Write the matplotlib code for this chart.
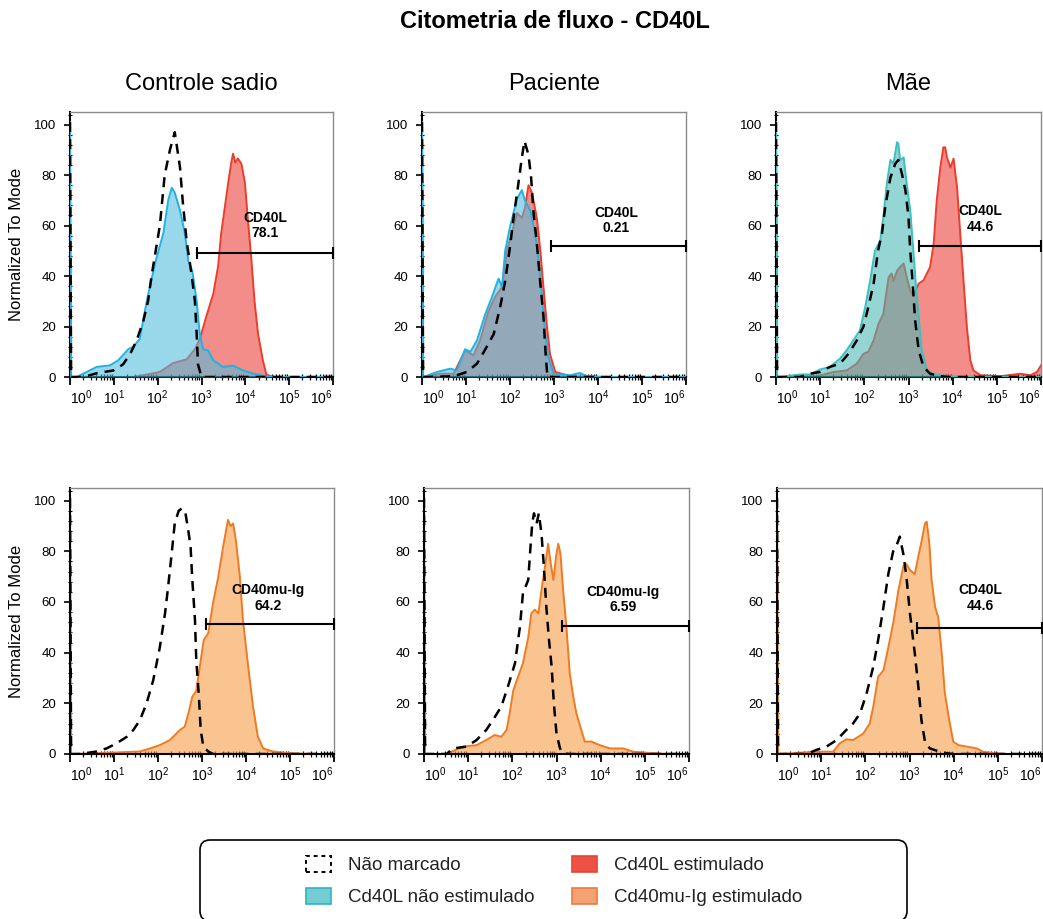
import matplotlib
matplotlib.use('Agg')
import matplotlib.pyplot as plt
from matplotlib.patches import FancyBboxPatch, Patch
from matplotlib.ticker import FixedLocator, MultipleLocator
import numpy as np

plt.rcParams['font.family'] = ['Liberation Sans', 'DejaVu Sans']
plt.rcParams['mathtext.fontset'] = 'custom'
plt.rcParams['mathtext.rm'] = 'Liberation Sans'
plt.rcParams['mathtext.it'] = 'Liberation Sans:italic'
plt.rcParams['mathtext.bf'] = 'Liberation Sans:bold'

title = 'Citometria de fluxo - CD40L'
columns = ['Controle sadio', 'Paciente', 'Mãe']
ylabel = 'Normalized To Mode'
decades = [0, 1, 2, 3, 4, 5, 6]

# x in log10 units (decades), y in % of mode
# --- top row: CD40L ---
ctrl_neg_x = [0, 0.025, 0.30, 0.61, 0.99, 1.21, 1.37, 1.52, 1.67, 1.78, 1.86, 2.05, 2.16, 2.28, 2.39,
              2.51, 2.57, 2.66, 2.77, 2.85, 2.89, 2.92, 3.0, 6.0]
ctrl_neg_y = [101, 0, 0, 1.5, 2.6, 5, 9, 14.5, 22, 30, 40, 60, 80, 90, 97,
              83, 70, 54, 41, 30, 17, 5, 0, 0]
ctrl_ns_x = [0, 0.025, 0.15, 0.38, 0.61, 0.91, 1.10, 1.33, 1.44, 1.59, 1.75, 1.94, 2.13, 2.24, 2.32, 2.39,
             2.51, 2.62, 2.70, 2.79, 2.89, 2.96, 3.04, 3.15, 3.27, 3.49, 3.72, 3.95, 4.18, 4.48, 4.7, 6.0]
ctrl_ns_y = [101, 0, 0, 2, 4, 4.6, 6.6, 11, 12, 15, 30, 45, 57, 70, 75, 73,
             66, 57, 46, 42, 30, 17, 11, 10.5, 6.6, 4, 4.5, 2.6, 1.3, 0.3, 0, 0]
ctrl_st_x = [0, 0.025, 1.44, 1.67, 2.05, 2.35, 2.66, 2.85, 2.96, 3.11, 3.27, 3.38, 3.45, 3.53, 3.61, 3.68,
             3.72, 3.77, 3.83, 3.91, 3.99, 4.06, 4.14, 4.21, 4.29, 4.40, 4.48, 4.63, 6.0]
ctrl_st_y = [60, 0, 0, 0.7, 2, 5.5, 7, 11, 15, 24, 33, 44, 57, 67, 77, 85,
             88.5, 85, 86.6, 84.5, 77, 62, 46, 30, 17, 6.6, 1, 0, 0]

pac_neg_x = [0, 0.025, 0.11, 0.72, 1.02, 1.25, 1.44, 1.63, 1.78, 1.89, 2.00, 2.08, 2.19, 2.27, 2.33,
             2.42, 2.48, 2.53, 2.61, 2.69, 2.76, 2.81, 2.85, 6.0]
pac_neg_y = [101, 0, 0, 0.3, 2, 5.3, 11, 17, 28, 38, 51.5, 63, 76.6, 87, 93.5,
             88, 79, 66, 53, 37, 24, 9, 0, 0]
pac_ns_x = [0, 0.025, 0.04, 0.34, 0.64, 0.79, 0.98, 1.10, 1.25, 1.44, 1.59, 1.74, 1.82, 1.89, 2.00, 2.16,
            2.27, 2.34, 2.46, 2.57, 2.65, 2.72, 2.80, 2.87, 2.99, 3.37, 3.59, 3.74, 4.12, 6.0]
pac_ns_y = [101, 0, 0, 2, 3.3, 2.6, 11, 10, 14.5, 25, 31.7, 39, 35.7, 50, 59.4, 70.7,
            74, 70, 66, 57, 46, 33, 17, 8, 1.3, 0.7, 1.6, 0.3, 0, 0]
pac_st_x = [0, 0.025, 0.04, 0.42, 0.72, 0.98, 1.17, 1.32, 1.51, 1.66, 1.82, 1.93, 2.04, 2.16, 2.27, 2.34,
            2.42, 2.50, 2.61, 2.69, 2.76, 2.84, 2.91, 3.03, 3.37, 4.12, 6.0]
pac_st_y = [101, 0, 0, 1.3, 1.3, 10.5, 8.6, 14.5, 26, 31.7, 35.7, 50, 57, 65, 63, 67,
            76, 73, 63, 50, 35.7, 20, 9, 2, 0.3, 0, 0]

mae_neg_x = [0, 0.025, 0.54, 0.77, 1.00, 1.22, 1.45, 1.64, 1.83, 1.98, 2.09, 2.21, 2.31, 2.40, 2.47, 2.59,
             2.70, 2.77, 2.85, 2.93, 3.00, 3.04, 3.10, 3.15, 3.23, 3.34, 3.49, 3.72, 3.95, 6.0]
mae_neg_y = [101, 0, 0, 1.3, 2, 4, 5.3, 9.2, 14.5, 20, 27.7, 37, 50, 57, 67, 79,
             84.5, 86, 80.6, 74, 63.4, 50, 35.7, 22.5, 10.6, 4, 1.3, 0.3, 0, 0]
mae_ns_x = [0, 0.025, 0.09, 0.54, 0.77, 1.00, 1.22, 1.45, 1.60, 1.75, 1.90, 2.02, 2.13, 2.24, 2.36, 2.43,
            2.51, 2.59, 2.66, 2.74, 2.77, 2.81, 2.89, 2.96, 3.04, 3.11, 3.17, 3.23, 3.30, 3.42, 3.57,
            3.95, 4.32, 6.0]
mae_ns_y = [101, 0, 0, 1, 1, 3, 4, 7.3, 10.6, 14.5, 18.5, 27.7, 38, 50, 54, 63.4,
            76.6, 86, 84.5, 93, 92.5, 86, 87, 76.6, 66, 50, 35.7, 23.8, 10.6, 2.6, 1,
            0.3, 0, 0]
mae_st_x = [0, 0.025, 0.09, 0.92, 1.30, 1.60, 1.83, 1.98, 2.09, 2.21, 2.32, 2.43, 2.55, 2.62, 2.66, 2.74,
            2.81, 2.89, 2.96, 3.04, 3.11, 3.23, 3.34, 3.49, 3.57, 3.64, 3.72, 3.79, 3.83, 3.87, 3.95,
            4.02, 4.10, 4.17, 4.25, 4.32, 4.40, 4.47, 4.63, 5.08, 5.53, 5.76, 5.91, 6.0]
mae_st_y = [101, 0, 0, 0.3, 2, 2.6, 5.3, 9.2, 10, 14.5, 21, 25, 39.6, 41, 38, 42,
            43.6, 45, 39.6, 34.3, 32, 37, 38.3, 43.6, 52.8, 70, 83, 91, 91, 87, 83,
            86.5, 75, 57, 37, 20, 6.6, 2.6, 0.7, 0.3, 1.3, 0.7, 2, 4.6]

# --- bottom row: CD40mu-Ig ---
ctrl_neg2_x = [0, 0.025, 0.23, 0.61, 0.83, 1.06, 1.29, 1.44, 1.59, 1.74, 1.89, 2.04, 2.16, 2.23, 2.31,
               2.38, 2.47, 2.55, 2.62, 2.69, 2.74, 2.78, 2.84, 2.87, 2.93, 2.97, 3.03, 3.14, 3.25, 6.0]
ctrl_neg2_y = [101, 0, 0, 1, 2.2, 4.2, 6.8, 9.5, 13.4, 20, 29, 42, 55.5, 66, 79,
               91, 96, 97, 95.5, 88, 82, 68.7, 53, 37, 22.6, 9.5, 2.9, 1, 0, 0]
ctrl_ig_x = [0, 0.025, 0.08, 0.91, 1.59, 1.82, 2.04, 2.27, 2.50, 2.61, 2.69, 2.78, 2.87, 2.95, 3.04,
             3.14, 3.25, 3.37, 3.48, 3.59, 3.65, 3.71, 3.78, 3.86, 3.93, 4.05, 4.16, 4.27, 4.39,
             4.61, 4.99, 5.60, 6.0]
ctrl_ig_y = [101, 0, 0, 0.5, 1, 2.2, 3.5, 5.5, 9.5, 10.8, 16, 22.6, 25, 34.5, 45,
             47.6, 59.5, 70, 81.8, 92.4, 90, 91, 83, 70, 53, 34.5, 18.7, 6.8, 2.2,
             1, 0.3, 0, 0]

pac_neg2_x = [0, 0.025, 0.51, 0.66, 0.96, 1.19, 1.41, 1.56, 1.75, 1.90, 2.06, 2.17, 2.24, 2.36, 2.40,
              2.45, 2.49, 2.55, 2.60, 2.66, 2.71, 2.77, 2.83, 2.89, 2.94, 3.00, 3.08, 3.15, 3.30, 6.0]
pac_neg2_y = [101, 0, 0, 2.2, 2.9, 5.5, 9.5, 13.4, 18.7, 26.6, 35.8, 50, 63.4, 68.7, 79,
              91, 95, 91, 95, 87, 75, 58, 45, 34.5, 20, 8, 2.2, 0.3, 0, 0]
pac_ig_x = [0, 0.025, 0.51, 0.88, 1.19, 1.41, 1.60, 1.75, 1.87, 1.94, 2.02, 2.13, 2.24, 2.36, 2.43,
            2.51, 2.59, 2.66, 2.74, 2.81, 2.87, 2.93, 2.99, 3.04, 3.09, 3.15, 3.23, 3.30, 3.38,
            3.45, 3.54, 3.64, 3.79, 3.98, 4.21, 4.51, 4.74, 5.19, 5.57, 6.0]
pac_ig_y = [101, 0, 0, 2.9, 3.5, 5.5, 7.5, 6.8, 9.5, 16, 25, 30.5, 35.8, 46, 55.5,
            57, 55.5, 64.7, 74, 83, 75, 68.7, 78, 83, 79, 64.7, 49, 31.8, 22.6,
            16, 10.8, 4.9, 4.9, 3.5, 2.2, 2.2, 0.9, 0.3, 0, 0]

mae_neg2_x = [0, 0.025, 0.67, 0.89, 1.12, 1.35, 1.57, 1.72, 1.88, 2.03, 2.18, 2.29, 2.41, 2.52, 2.63,
              2.71, 2.78, 2.86, 2.93, 3.01, 3.12, 3.20, 3.27, 3.35, 3.46, 3.62, 3.84, 3.99, 6.0]
mae_neg2_y = [101, 0, 0, 1.6, 2.9, 5.5, 9.5, 12, 16, 24, 34.5, 45, 58, 71, 80,
              82.5, 85.8, 79, 70, 55.5, 39.7, 26.6, 13.4, 4.9, 2.2, 1.3, 0.3, 0, 0]
mae_ig_x = [0, 0.025, 0.06, 0.89, 1.27, 1.42, 1.57, 1.72, 1.95, 2.10, 2.18, 2.29, 2.41, 2.52, 2.63,
            2.75, 2.86, 2.93, 3.01, 3.12, 3.20, 3.28, 3.35, 3.39, 3.45, 3.50, 3.58, 3.65, 3.73,
            3.80, 3.90, 3.99, 4.11, 4.30, 4.52, 4.67, 4.90, 5.20, 6.0]
mae_ig_y = [101, 0, 0, 0.9, 0.9, 4.2, 5.8, 5.5, 8, 12, 18.7, 30.5, 33, 42, 51.6,
            64.7, 74, 75, 72.6, 71, 78, 84.5, 91, 91.7, 83, 68.7, 58, 54, 39.7,
            24, 13.4, 4.9, 3.5, 2.9, 2.2, 0.9, 0.3, 0, 0]

gate_names = ['CD40L', 'CD40L', 'CD40L', 'CD40mu-Ig', 'CD40mu-Ig', 'CD40L']
gate_pct = ['78.1', '0.21', '44.6', '64.2', '6.59', '44.6']
gate_start = [2.90, 2.93, 3.23, 3.08, 3.13, 3.18]
gate_y = [49, 52, 52, 51.2, 50.7, 49.6]
gate_text_x = [4.46, 4.42, 4.62, 4.5, 4.51, 4.6]
gate_text_y = [60, 62, 62.5, 61.5, 61, 61.7]

neg_curves = [(ctrl_neg_x, ctrl_neg_y), (pac_neg_x, pac_neg_y), (mae_neg_x, mae_neg_y),
              (ctrl_neg2_x, ctrl_neg2_y), (pac_neg2_x, pac_neg2_y), (mae_neg2_x, mae_neg2_y)]
ns_curves = [(ctrl_ns_x, ctrl_ns_y), (pac_ns_x, pac_ns_y), (mae_ns_x, mae_ns_y)]
st_curves = [(ctrl_st_x, ctrl_st_y), (pac_st_x, pac_st_y), (mae_st_x, mae_st_y)]
ig_curves = [(ctrl_ig_x, ctrl_ig_y), (pac_ig_x, pac_ig_y), (mae_ig_x, mae_ig_y)]

ns_fill = ['#4fbcdc', '#4fbcdc', '#48b9b6']
ns_line = ['#22b1e2', '#22b1e2', '#3cbfbf']
red_fill, red_line = '#e8302a', '#ee3d2a'
org_fill, org_line = '#f59e45', '#f07a22'

W, H = 1043, 919
fig = plt.figure(figsize=(W / 100, H / 100), dpi=100)

# panel boxes in pixels: left, top, right, bottom
boxes = [(70, 112, 333, 377), (422, 112, 686, 377), (776, 112, 1041, 377),
         (70, 488, 334, 754), (424, 488, 689, 754), (777, 488, 1042, 754)]


def style_axes(ax):
    ax.set_xlim(0, 6)
    ax.set_ylim(0, 105)
    ax.set_xticks(decades)
    ax.set_xticklabels([r'$\mathregular{10^{%d}}$' % d for d in decades])
    tl = ax.get_xticklabels()
    tl[0].set_ha('left')
    tl[-1].set_ha('right')
    minor = [d + np.log10(k) for d in decades[:-1] for k in range(2, 10)]
    ax.xaxis.set_minor_locator(FixedLocator(minor))
    ax.set_yticks([0, 20, 40, 60, 80, 100])
    ax.yaxis.set_minor_locator(MultipleLocator(4))
    ax.tick_params(axis='x', which='major', direction='out', length=6, width=1.3, pad=2.5, labelsize=10)
    ax.tick_params(axis='x', which='minor', direction='inout', length=4, width=0.9)
    ax.tick_params(axis='y', which='major', direction='out', length=4, width=1.2, pad=6, labelsize=9.5)
    ax.tick_params(axis='y', which='minor', direction='inout', length=3, width=0.8)
    for s in ['left', 'bottom']:
        ax.spines[s].set_linewidth(1.5)
    for s in ['top', 'right']:
        ax.spines[s].set_color('#8a8a8a')
        ax.spines[s].set_linewidth(1.0)


def draw_hist(ax, x, y, fill, line, alpha, z):
    ax.fill_between(x, y, color=fill, alpha=alpha, lw=0, zorder=z)
    ax.plot(x, y, color=line, lw=1.4, zorder=z + 0.5)


axes = []
for i, (l, t, r, b) in enumerate(boxes):
    ax = fig.add_axes([l / W, 1 - b / H, (r - l) / W, (b - t) / H])
    style_axes(ax)
    axes.append(ax)

    if i < 3:
        sx, sy = st_curves[i]
        draw_hist(ax, sx, sy, red_fill, red_line, 0.55, 2)
        nx, ny = ns_curves[i]
        draw_hist(ax, nx, ny, ns_fill[i], ns_line[i], 0.58, 3)
    else:
        gx, gy = ig_curves[i - 3]
        draw_hist(ax, gx, gy, org_fill, org_line, 0.6, 2)

    ux, uy = neg_curves[i]
    ax.plot(ux, uy, color='black', lw=1.8, ls=(0, (4, 2.8)), zorder=5)

    # gate
    g0, gyv = gate_start[i], gate_y[i]
    ax.plot([g0, 6], [gyv, gyv], color='black', lw=1.5, zorder=6, clip_on=False)
    ax.plot([g0, 6], [gyv, gyv], ls='none', marker='|', ms=9, mew=1.5, color='black',
            zorder=6, clip_on=False)
    ax.text(gate_text_x[i], gate_text_y[i], gate_names[i] + '\n' + gate_pct[i], ha='center',
            va='center', fontsize=10, fontweight='bold', linespacing=1.15, zorder=7)

    if i % 3 == 0:
        ax.set_ylabel(ylabel, fontsize=12, labelpad=7)

for i in range(3):
    l, t, r, b = boxes[i]
    fig.text((l + r) / 2 / W, 1 - 84 / H, columns[i], ha='center', va='center', fontsize=17)

fig.text(554.5 / W, 1 - 22 / H, title, ha='center', va='center', fontsize=17, fontweight='bold')

# legend
box = FancyBboxPatch((2.0, -0.02), 7.07, 0.81, boxstyle='round,pad=0,rounding_size=0.1',
                     transform=fig.dpi_scale_trans, facecolor='white', edgecolor='black', lw=1.2)
fig.add_artist(box)
handles = [
    Patch(facecolor='white', edgecolor='black', linestyle=(0, (2, 2)), linewidth=1.4, label='Não marcado'),
    Patch(facecolor='#74cdd3', edgecolor='#2bb6c6', linewidth=1.2, label='Cd40L não estimulado'),
    Patch(facecolor='#ef5045', edgecolor='#e64632', linewidth=1.2, label='Cd40L estimulado'),
    Patch(facecolor='#f4a273', edgecolor='#ea7b3e', linewidth=1.2, label='Cd40mu-Ig estimulado'),
]
fig.legend(handles=handles, ncol=2, loc='center', bbox_to_anchor=(554 / W, 1 - 881 / H),
           frameon=False, fontsize=13.5, handlelength=1.35, handleheight=1.0, handletextpad=0.9,
           columnspacing=2.0, labelspacing=0.7, labelcolor='#222222')

fig.savefig('out.png', dpi=100)
